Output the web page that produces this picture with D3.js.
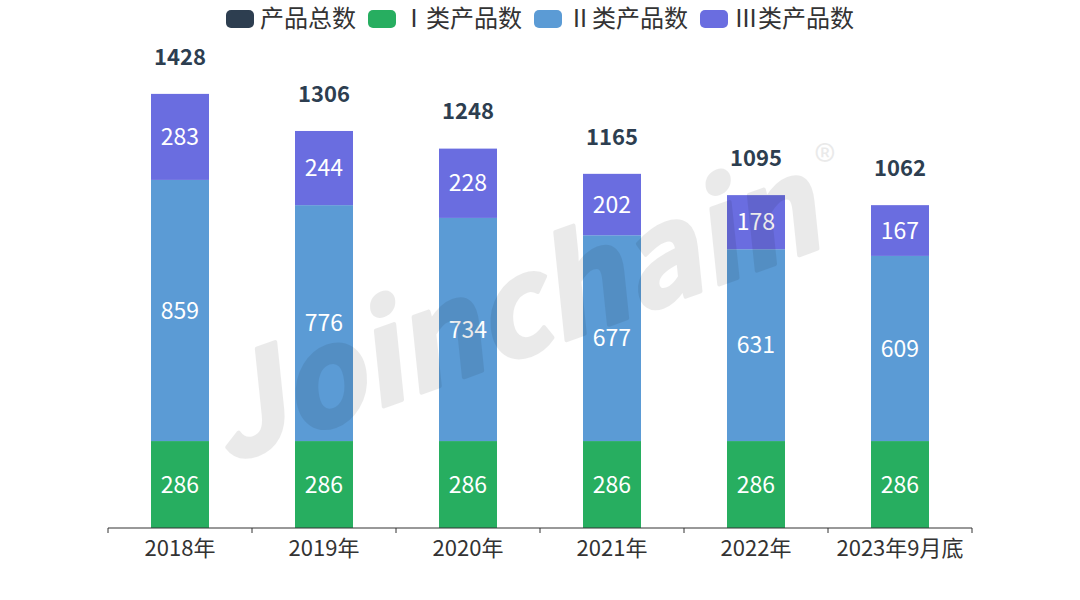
<!DOCTYPE html>
<html>
<head>
<meta charset="utf-8">
<script src="https://cdn.jsdelivr.net/npm/d3@7"></script>
<style>
  body { margin: 0; background: #fff; }
  svg text { font-family: "Noto Sans CJK SC", "Noto Sans", sans-serif; }
</style>
</head>
<body>
<svg id="chart"></svg>
<script>
// chart data
const categories = ['2018年', '2019年', '2020年', '2021年', '2022年', '2023年9月底'];
const class1 = [286, 286, 286, 286, 286, 286];
const class2 = [859, 776, 734, 677, 631, 609];
const class3 = [283, 244, 228, 202, 178, 167];
const totals = [1428, 1306, 1248, 1165, 1095, 1062];
const seriesNames = ['产品总数', 'Ⅰ类产品数', 'Ⅱ类产品数', 'Ⅲ类产品数'];
const seriesColors = ['#2d3e50', '#27ae60', '#5b9bd5', '#6a6de0'];

const width = 1080, height = 600;
const margin = {top: 72, right: 108, bottom: 72, left: 108};

const svg = d3.select('#chart')
  .attr('width', width)
  .attr('height', height);

const xScale = d3.scaleBand()
  .domain(categories)
  .range([margin.left, width - margin.right])
  .paddingInner(0)
  .paddingOuter(0);

const yScale = d3.scaleLinear()
  .domain([0, 1500])
  .range([height - margin.bottom, margin.top]);

const barW = 58;

// stack the three classes
const rows = categories.map((c, i) => ({cat: c, c1: class1[i], c2: class2[i], c3: class3[i], total: totals[i]}));
const stack = d3.stack().keys(['c1', 'c2', 'c3']);
const layers = stack(rows);

const bars = svg.append('g');
layers.forEach((layer, li) => {
  const g = bars.append('g').attr('fill', seriesColors[li + 1]);
  g.selectAll('rect')
    .data(layer)
    .join('rect')
      .attr('x', d => xScale(d.data.cat) + xScale.bandwidth() / 2 - barW / 2)
      .attr('y', d => yScale(d[1]))
      .attr('width', barW)
      .attr('height', d => yScale(d[0]) - yScale(d[1]));

  g.selectAll('text')
    .data(layer)
    .join('text')
      .attr('x', d => xScale(d.data.cat) + xScale.bandwidth() / 2)
      .attr('y', d => (yScale(d[0]) + yScale(d[1])) / 2)
      .attr('dy', '0.35em')
      .attr('text-anchor', 'middle')
      .attr('fill', '#fff')
      .attr('font-size', 23)
      .text(d => d[1] - d[0]);
});

// total labels
svg.append('g')
  .selectAll('text')
  .data(rows)
  .join('text')
    .attr('x', d => xScale(d.cat) + xScale.bandwidth() / 2)
    .attr('y', d => yScale(d.total) - 37)
    .attr('dy', '0.35em')
    .attr('text-anchor', 'middle')
    .attr('fill', seriesColors[0])
    .attr('font-size', 22)
    .attr('font-weight', 'bold')
    .text(d => d.total);

// x axis
const xAxisG = svg.append('g')
  .attr('transform', `translate(0,${height - margin.bottom})`);
xAxisG.append('line')
  .attr('x1', margin.left).attr('x2', width - margin.right)
  .attr('stroke', '#333').attr('stroke-width', 1);
const tickPos = categories.map(c => xScale(c)).concat([width - margin.right]);
xAxisG.selectAll('.tick-line')
  .data(tickPos)
  .join('line')
    .attr('class', 'tick-line')
    .attr('x1', d => d).attr('x2', d => d)
    .attr('y1', 0).attr('y2', 5)
    .attr('stroke', '#333');
xAxisG.selectAll('.tick-label')
  .data(categories)
  .join('text')
    .attr('class', 'tick-label')
    .attr('x', d => xScale(d) + xScale.bandwidth() / 2)
    .attr('y', 20)
    .attr('dy', '0.35em')
    .attr('text-anchor', 'middle')
    .attr('fill', '#333')
    .attr('font-size', 22)
    .text(d => d);

// watermark (group opacity so the thickening stroke doesn't double up)
const wm = svg.append('g')
  .attr('opacity', 0.08)
  .attr('pointer-events', 'none');
wm.append('text')
  .attr('transform', 'translate(226,464) rotate(-20)')
  .attr('font-family', '"DejaVu Sans", sans-serif')
  .attr('font-size', 132)
  .attr('font-weight', 'bold')
  .attr('font-style', 'oblique')
  .attr('fill', '#000')
  .attr('stroke', '#000')
  .attr('stroke-width', 4)
  .attr('stroke-linejoin', 'round')
  .text('Joinchain');
wm.append('text')
  .attr('x', 825).attr('y', 163)
  .attr('dy', '0.35em')
  .attr('text-anchor', 'middle')
  .attr('font-family', '"Noto Sans", sans-serif')
  .attr('font-size', 44)
  .attr('fill', '#000')
  .text('®');

// legend
const legend = svg.append('g');
let lx = 0;
seriesNames.forEach((name, i) => {
  const item = legend.append('g');
  item.append('rect')
    .attr('x', 0).attr('y', -9)
    .attr('width', 28).attr('height', 18)
    .attr('rx', 5)
    .attr('fill', seriesColors[i]);
  const t = item.append('text')
    .attr('x', 34).attr('y', 0)
    .attr('dy', '0.35em')
    .attr('fill', '#333')
    .attr('font-size', 24)
    .text(name);
  const w = 34 + t.node().getComputedTextLength();
  item.attr('transform', `translate(${lx},19)`);
  lx += w + 12;
});
lx -= 12;
legend.attr('transform', `translate(${(width - lx) / 2},0)`);
</script>
</body>
</html>
